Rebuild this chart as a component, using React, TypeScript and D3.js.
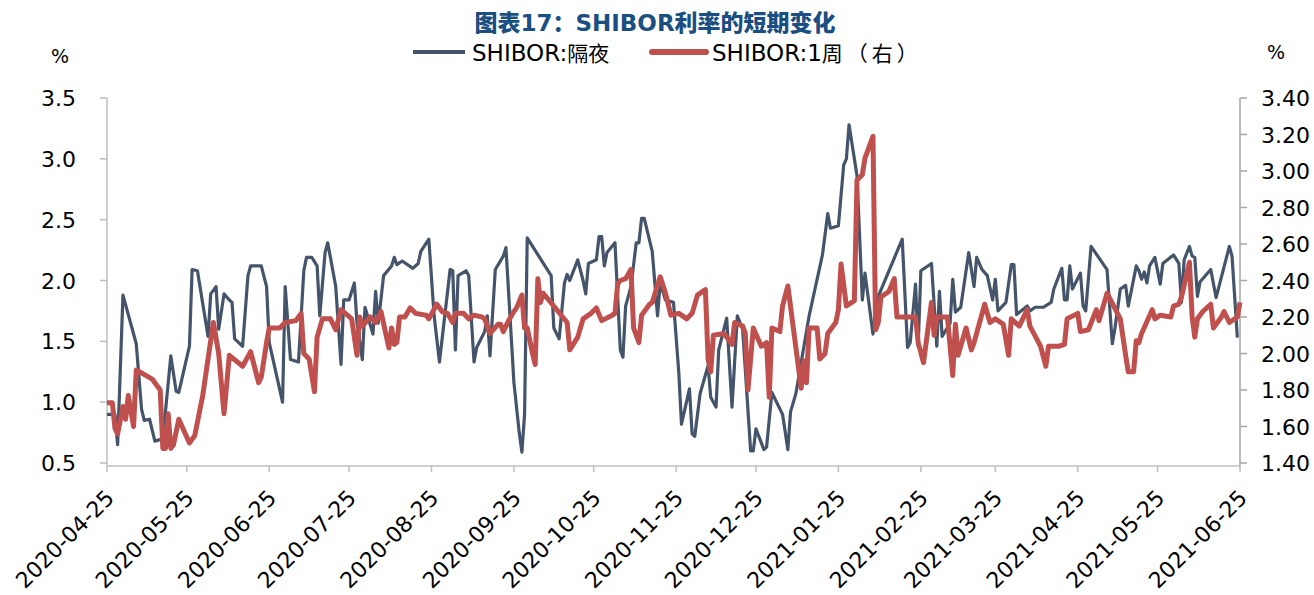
import React from 'react';
import * as d3 from 'd3';

const titleCn1 = '图表';
const titleLatin = '17';
const titleCn2 = '：';
const titleLatin2 = 'SHIBOR';
const titleCn3 = '利率的短期变化';
const legendLatin = ['SHIBOR:', 'SHIBOR:1'];
const legendCn = ['隔夜', '周（右）'];
const xTicks = [
  '2020-04-25', '2020-05-25', '2020-06-25', '2020-07-25', '2020-08-25', '2020-09-25', '2020-10-25',
  '2020-11-25', '2020-12-25', '2021-01-25', '2021-02-25', '2021-03-25', '2021-04-25', '2021-05-25', '2021-06-25',
];
const leftTicks = [0.5, 1.0, 1.5, 2.0, 2.5, 3.0, 3.5];
const rightTicks = [1.4, 1.6, 1.8, 2.0, 2.2, 2.4, 2.6, 2.8, 3.0, 3.2, 3.4];

// SHIBOR overnight (left axis)
const overnightDates = [
  '2020-04-25', '2020-04-28', '2020-04-29', '2020-05-01', '2020-05-06', '2020-05-08', '2020-05-09', '2020-05-11',
  '2020-05-13', '2020-05-16', '2020-05-19', '2020-05-21', '2020-05-22', '2020-05-26', '2020-05-27', '2020-05-29',
  '2020-06-02', '2020-06-03', '2020-06-05', '2020-06-06', '2020-06-08', '2020-06-10', '2020-06-11', '2020-06-12',
  '2020-06-15', '2020-06-17', '2020-06-18', '2020-06-22', '2020-06-24', '2020-06-25', '2020-06-30', '2020-07-01',
  '2020-07-03', '2020-07-06', '2020-07-08', '2020-07-09', '2020-07-11', '2020-07-13', '2020-07-14', '2020-07-16',
  '2020-07-17', '2020-07-20', '2020-07-22', '2020-07-23', '2020-07-25', '2020-07-27', '2020-07-28', '2020-07-30',
  '2020-07-31', '2020-08-03', '2020-08-04', '2020-08-05', '2020-08-07', '2020-08-10', '2020-08-11', '2020-08-12',
  '2020-08-14', '2020-08-18', '2020-08-20', '2020-08-21', '2020-08-24', '2020-08-26', '2020-08-28', '2020-09-01',
  '2020-09-02', '2020-09-03', '2020-09-04', '2020-09-07', '2020-09-08', '2020-09-10', '2020-09-11', '2020-09-14',
  '2020-09-15', '2020-09-16', '2020-09-18', '2020-09-21', '2020-09-22', '2020-09-25', '2020-09-27', '2020-09-28',
  '2020-09-29', '2020-09-30', '2020-10-09', '2020-10-10', '2020-10-12', '2020-10-14', '2020-10-15', '2020-10-16',
  '2020-10-19', '2020-10-21', '2020-10-22', '2020-10-23', '2020-10-26', '2020-10-27', '2020-10-28', '2020-10-29',
  '2020-10-30', '2020-11-02', '2020-11-04', '2020-11-05', '2020-11-06', '2020-11-08', '2020-11-10', '2020-11-11',
  '2020-11-12', '2020-11-13', '2020-11-16', '2020-11-18', '2020-11-19', '2020-11-21', '2020-11-24', '2020-11-26',
  '2020-11-27', '2020-11-30', '2020-12-01', '2020-12-02', '2020-12-04', '2020-12-07', '2020-12-08', '2020-12-10',
  '2020-12-11', '2020-12-14', '2020-12-16', '2020-12-18', '2020-12-20', '2020-12-23', '2020-12-24', '2020-12-25',
  '2020-12-28', '2020-12-29', '2020-12-31', '2021-01-04', '2021-01-06', '2021-01-07', '2021-01-09', '2021-01-14',
  '2021-01-19', '2021-01-21', '2021-01-22', '2021-01-25', '2021-01-27', '2021-01-28', '2021-01-29', '2021-02-01',
  '2021-02-03', '2021-02-04', '2021-02-07', '2021-02-09', '2021-02-18', '2021-02-20', '2021-02-21', '2021-02-23',
  '2021-02-24', '2021-02-25', '2021-03-01', '2021-03-03', '2021-03-04', '2021-03-05', '2021-03-08', '2021-03-09',
  '2021-03-10', '2021-03-12', '2021-03-15', '2021-03-17', '2021-03-18', '2021-03-20', '2021-03-22', '2021-03-24',
  '2021-03-25', '2021-03-26', '2021-03-29', '2021-03-31', '2021-04-01', '2021-04-02', '2021-04-06', '2021-04-07',
  '2021-04-09', '2021-04-12', '2021-04-15', '2021-04-16', '2021-04-19', '2021-04-20', '2021-04-21', '2021-04-22',
  '2021-04-23', '2021-04-26', '2021-04-27', '2021-04-28', '2021-04-30', '2021-05-06', '2021-05-08', '2021-05-09',
  '2021-05-11', '2021-05-13', '2021-05-14', '2021-05-17', '2021-05-18', '2021-05-19', '2021-05-20', '2021-05-21',
  '2021-05-22', '2021-05-24', '2021-05-26', '2021-05-27', '2021-05-31', '2021-06-02', '2021-06-03', '2021-06-04',
  '2021-06-06', '2021-06-07', '2021-06-08', '2021-06-09', '2021-06-10', '2021-06-14', '2021-06-16', '2021-06-21',
  '2021-06-22', '2021-06-24',
];
const overnightValues = [
  0.90, 0.90, 0.65, 1.88, 1.48, 0.94, 0.85, 0.86,
  0.68, 0.70, 1.38, 1.09, 1.08, 1.46, 2.09, 2.08,
  1.54, 1.89, 1.95, 1.60, 1.89, 1.84, 1.82, 1.52,
  1.46, 2.04, 2.12, 2.12, 1.95, 1.49, 1.00, 1.95,
  1.35, 1.33, 2.08, 2.19, 2.19, 2.12, 1.71, 2.23,
  2.31, 1.95, 1.31, 1.84, 1.84, 1.98, 1.65, 1.35,
  1.78, 1.56, 1.91, 1.65, 2.04, 2.12, 2.19, 2.13,
  2.16, 2.10, 2.14, 2.24, 2.34, 1.71, 1.33, 2.09,
  2.08, 1.43, 2.04, 2.08, 2.04, 1.33, 1.45, 1.58,
  1.71, 1.38, 2.09, 2.20, 2.27, 1.16, 0.75, 0.59,
  0.90, 2.35, 2.04, 1.61, 1.52, 1.98, 2.05, 2.00,
  2.17, 2.00, 1.89, 2.14, 2.17, 2.36, 2.36, 2.12,
  2.23, 2.31, 1.43, 1.37, 1.79, 1.95, 2.31, 2.31,
  2.51, 2.51, 2.24, 1.71, 1.98, 1.84, 1.82, 1.24,
  0.82, 1.11, 0.74, 0.72, 1.07, 1.30, 1.04, 0.96,
  1.43, 1.69, 0.96, 1.71, 1.60, 0.60, 0.60, 0.78,
  0.61, 0.63, 1.08, 0.90, 0.61, 0.92, 1.07, 1.71,
  2.21, 2.55, 2.43, 2.45, 2.95, 3.00, 3.28, 2.86,
  1.84, 2.06, 1.56, 1.87, 2.34, 1.45, 1.49, 1.97,
  1.46, 2.08, 2.14, 1.46, 1.91, 1.54, 1.65, 2.01,
  1.74, 1.78, 2.23, 1.95, 2.19, 2.09, 2.04, 1.84,
  2.01, 1.75, 1.82, 2.13, 2.13, 1.72, 1.79, 1.75,
  1.78, 1.78, 1.82, 1.93, 2.10, 1.84, 1.84, 2.12,
  1.93, 2.06, 1.79, 1.75, 2.28, 2.09, 1.48, 1.61,
  1.93, 1.96, 1.79, 2.12, 2.08, 2.01, 2.07, 1.98,
  2.12, 2.19, 1.97, 2.14, 2.21, 2.14, 1.82, 2.17,
  2.28, 2.20, 2.19, 1.87, 1.99, 2.09, 1.86, 2.28,
  2.20, 1.53,
];

// SHIBOR 1 week (right axis)
const weekDates = [
  '2020-04-25', '2020-04-27', '2020-04-28', '2020-04-29', '2020-05-01', '2020-05-02', '2020-05-03', '2020-05-05',
  '2020-05-06', '2020-05-12', '2020-05-13', '2020-05-15', '2020-05-16', '2020-05-17', '2020-05-18', '2020-05-19',
  '2020-05-20', '2020-05-22', '2020-05-26', '2020-05-28', '2020-05-31', '2020-06-04', '2020-06-06', '2020-06-08',
  '2020-06-10', '2020-06-15', '2020-06-18', '2020-06-21', '2020-06-22', '2020-06-24', '2020-06-25', '2020-06-29',
  '2020-07-01', '2020-07-05', '2020-07-07', '2020-07-08', '2020-07-10', '2020-07-12', '2020-07-13', '2020-07-15',
  '2020-07-18', '2020-07-20', '2020-07-22', '2020-07-26', '2020-07-28', '2020-07-29', '2020-07-30', '2020-08-02',
  '2020-08-04', '2020-08-06', '2020-08-09', '2020-08-10', '2020-08-11', '2020-08-12', '2020-08-13', '2020-08-15',
  '2020-08-17', '2020-08-19', '2020-08-23', '2020-08-24', '2020-08-27', '2020-08-29', '2020-08-31', '2020-09-02',
  '2020-09-03', '2020-09-06', '2020-09-08', '2020-09-10', '2020-09-13', '2020-09-14', '2020-09-16', '2020-09-19',
  '2020-09-20', '2020-09-21', '2020-09-23', '2020-09-25', '2020-09-26', '2020-09-28', '2020-09-29', '2020-09-30',
  '2020-10-02', '2020-10-03', '2020-10-04', '2020-10-05', '2020-10-06', '2020-10-10', '2020-10-15', '2020-10-16',
  '2020-10-19', '2020-10-21', '2020-10-24', '2020-10-26', '2020-10-28', '2020-11-01', '2020-11-02', '2020-11-03',
  '2020-11-04', '2020-11-06', '2020-11-08', '2020-11-09', '2020-11-11', '2020-11-12', '2020-11-15', '2020-11-16',
  '2020-11-19', '2020-11-21', '2020-11-23', '2020-11-26', '2020-11-29', '2020-12-01', '2020-12-03', '2020-12-06',
  '2020-12-07', '2020-12-08', '2020-12-09', '2020-12-13', '2020-12-16', '2020-12-17', '2020-12-20', '2020-12-21',
  '2020-12-22', '2020-12-24', '2020-12-27', '2020-12-29', '2020-12-30', '2020-12-31', '2021-01-03', '2021-01-04',
  '2021-01-06', '2021-01-11', '2021-01-12', '2021-01-13', '2021-01-14', '2021-01-17', '2021-01-18', '2021-01-20',
  '2021-01-21', '2021-01-24', '2021-01-25', '2021-01-26', '2021-01-28', '2021-01-31', '2021-02-01', '2021-02-03',
  '2021-02-04', '2021-02-07', '2021-02-08', '2021-02-09', '2021-02-10', '2021-02-13', '2021-02-15', '2021-02-16',
  '2021-02-23', '2021-02-24', '2021-02-26', '2021-03-01', '2021-03-02', '2021-03-03', '2021-03-07', '2021-03-09',
  '2021-03-10', '2021-03-11', '2021-03-14', '2021-03-16', '2021-03-17', '2021-03-21', '2021-03-23', '2021-03-25',
  '2021-03-28', '2021-03-30', '2021-03-31', '2021-04-03', '2021-04-06', '2021-04-07', '2021-04-11', '2021-04-13',
  '2021-04-14', '2021-04-18', '2021-04-20', '2021-04-21', '2021-04-25', '2021-04-26', '2021-04-29', '2021-05-02',
  '2021-05-03', '2021-05-06', '2021-05-11', '2021-05-13', '2021-05-14', '2021-05-16', '2021-05-17', '2021-05-18',
  '2021-05-19', '2021-05-23', '2021-05-24', '2021-05-26', '2021-05-30', '2021-05-31', '2021-06-02', '2021-06-03',
  '2021-06-06', '2021-06-07', '2021-06-08', '2021-06-09', '2021-06-11', '2021-06-14', '2021-06-15', '2021-06-18',
  '2021-06-19', '2021-06-21', '2021-06-24', '2021-06-25',
];
const weekValues = [
  1.73, 1.73, 1.59, 1.56, 1.71, 1.64, 1.77, 1.60,
  1.91, 1.86, 1.84, 1.80, 1.48, 1.48, 1.67, 1.48,
  1.50, 1.64, 1.51, 1.55, 1.77, 2.17, 2.00, 1.67,
  1.99, 1.93, 2.01, 1.84, 1.87, 2.06, 2.14, 2.14,
  2.17, 2.18, 2.22, 2.00, 1.97, 1.79, 2.09, 2.19,
  2.19, 2.13, 2.24, 2.19, 1.99, 2.20, 2.15, 2.20,
  2.17, 2.23, 2.03, 2.14, 2.05, 2.06, 2.20, 2.20,
  2.25, 2.22, 2.21, 2.19, 2.27, 2.23, 2.22, 2.17,
  2.22, 2.22, 2.19, 2.21, 2.20, 2.19, 2.11, 2.16,
  2.16, 2.12, 2.18, 2.23, 2.25, 2.32, 2.14, 2.14,
  2.00, 1.94, 2.41, 2.28, 2.33, 2.26, 2.17, 2.02,
  2.09, 2.19, 2.22, 2.25, 2.18, 2.21, 2.22, 2.38,
  2.40, 2.41, 2.46, 2.14, 2.06, 2.21, 2.27, 2.28,
  2.42, 2.33, 2.21, 2.22, 2.19, 2.22, 2.32, 2.35,
  1.97, 1.90, 2.10, 2.11, 2.05, 2.17, 2.15, 2.11,
  1.80, 2.14, 2.04, 2.06, 1.76, 2.14, 2.12, 2.26,
  2.37, 1.81, 1.96, 1.84, 2.14, 2.14, 1.97, 2.00,
  2.11, 2.17, 2.24, 2.49, 2.26, 2.29, 2.95, 2.98,
  3.07, 3.19, 2.13, 2.17, 2.31, 2.34, 2.41, 2.20,
  2.20, 2.06, 1.95, 2.28, 2.10, 2.20, 2.20, 1.88,
  2.16, 1.99, 2.14, 2.02, 2.06, 2.27, 2.17, 2.19,
  2.16, 1.99, 2.19, 2.15, 2.24, 2.15, 2.04, 1.93,
  2.04, 2.04, 2.05, 2.19, 2.22, 2.12, 2.13, 2.24,
  2.18, 2.33, 2.19, 1.99, 1.90, 1.90, 2.07, 2.06,
  2.11, 2.24, 2.19, 2.21, 2.20, 2.26, 2.27, 2.31,
  2.50, 2.20, 2.09, 2.19, 2.23, 2.27, 2.14, 2.20,
  2.23, 2.17, 2.20, 2.28,
];

const W = 1314;
const H = 595;
const margin = { left: 107, right: 74, top: 98, bottom: 129 };
const latinFont = '"DejaVu Sans", "Noto Sans CJK SC", sans-serif';
const cjkFont = '"Noto Sans CJK SC", sans-serif';
const blue = '#44546A';
const red = '#C0504D';
const axisGray = '#BFBFBF';

const parse = d3.timeParse('%Y-%m-%d');

export default function App() {
  const x = d3
    .scaleTime()
    .domain([parse(xTicks[0]) as Date, parse(xTicks[xTicks.length - 1]) as Date])
    .range([margin.left, W - margin.right]);
  const yL = d3.scaleLinear().domain([0.5, 3.5]).range([H - margin.bottom - 3, margin.top]);
  const yR = d3.scaleLinear().domain([1.4, 3.4]).range([H - margin.bottom - 3, margin.top]);
  const axisY = H - margin.bottom;

  const overnight = overnightDates.map((d, i) => ({ date: parse(d) as Date, v: overnightValues[i] }));
  const week = weekDates.map((d, i) => ({ date: parse(d) as Date, v: weekValues[i] }));

  const lineL = d3
    .line<{ date: Date; v: number }>()
    .x((d) => x(d.date))
    .y((d) => yL(d.v));
  const lineR = d3
    .line<{ date: Date; v: number }>()
    .x((d) => x(d.date))
    .y((d) => yR(d.v));

  const xr = W - margin.right;

  return (
    <svg
      width={W}
      height={H}
      style={{ position: 'absolute', left: 0, top: 0, background: '#fff', fontFamily: latinFont }}
    >
      <text x={655} y={31} textAnchor="middle" fontSize={23} fontWeight="bold" fill="#1B4F82">
        <tspan fontFamily={cjkFont} fontWeight={900}>{titleCn1}</tspan>
        <tspan>{titleLatin}</tspan>
        <tspan fontFamily={cjkFont} fontWeight={900}>{titleCn2}</tspan>
        <tspan>{titleLatin2}</tspan>
        <tspan fontFamily={cjkFont} fontWeight={900}>{titleCn3}</tspan>
      </text>

      {/* legend */}
      <line x1={413} x2={465} y1={52} y2={52} stroke={blue} strokeWidth={4} />
      <text x={472} y={61} fontSize={23} fill="#000">
        <tspan>{legendLatin[0]}</tspan>
        <tspan fontFamily={cjkFont} fontSize={21}>{legendCn[0]}</tspan>
      </text>
      <line x1={652} x2={706} y1={52} y2={52} stroke={red} strokeWidth={6} strokeLinecap="round" />
      <text x={712} y={61} fontSize={23} fill="#000">
        <tspan>{legendLatin[1]}</tspan>
        <tspan fontFamily={cjkFont} fontSize={21} letterSpacing={4}>{legendCn[1]}</tspan>
      </text>

      <text x={60} y={63} fontSize={19} textAnchor="middle">%</text>
      <text x={1276} y={59} fontSize={19} textAnchor="middle">%</text>

      {/* left axis */}
      <line x1={margin.left} x2={margin.left} y1={margin.top} y2={axisY} stroke={axisGray} strokeWidth={1.5} />
      {leftTicks.map((t) => (
        <g key={`l${t}`}>
          <line x1={margin.left - 7} x2={margin.left} y1={yL(t)} y2={yL(t)} stroke={axisGray} strokeWidth={1.5} />
          <text x={76} y={yL(t) + 8} fontSize={22} textAnchor="end">
            {t.toFixed(1)}
          </text>
        </g>
      ))}

      {/* right axis */}
      <line x1={xr} x2={xr} y1={margin.top} y2={axisY} stroke="#A6A6A6" strokeWidth={1.5} />
      {rightTicks.map((t) => (
        <g key={`r${t}`}>
          <line x1={xr} x2={xr + 7} y1={yR(t)} y2={yR(t)} stroke="#A6A6A6" strokeWidth={1.5} />
          <text x={1261} y={yR(t) + 8} fontSize={22} textAnchor="start">
            {t.toFixed(2)}
          </text>
        </g>
      ))}

      {/* x axis */}
      <line x1={margin.left} x2={xr} y1={axisY} y2={axisY} stroke={axisGray} strokeWidth={1.5} />
      {xTicks.map((t) => {
        const px = x(parse(t) as Date);
        return (
          <g key={t}>
            <line x1={px} x2={px} y1={axisY} y2={axisY + 6} stroke={axisGray} strokeWidth={1.5} />
            <text
              transform={`translate(${px + 3},${axisY + 28}) rotate(-45)`}
              fontSize={22}
              textAnchor="end"
              dy="0.35em"
            >
              {t}
            </text>
          </g>
        );
      })}

      <path d={lineL(overnight) ?? ''} fill="none" stroke={blue} strokeWidth={3.2} strokeLinejoin="round" />
      <path d={lineR(week) ?? ''} fill="none" stroke={red} strokeWidth={5} strokeLinejoin="round" />
    </svg>
  );
}
